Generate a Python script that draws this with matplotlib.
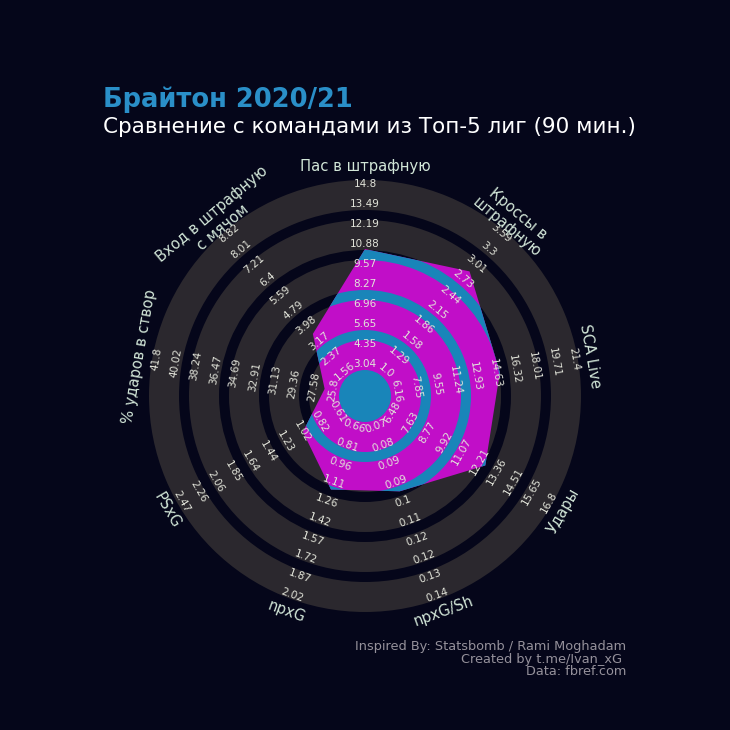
import numpy as np
import matplotlib.pyplot as plt
from matplotlib.patches import Polygon, Wedge, Circle

# parameters, clockwise from the top
params = ["Пас в штрафную", "Кроссы в\nштрафную", "SCA Live", "Удары", "npxG/Sh",
          "npxG", "PSxG", "% ударов в створ", "Вход в штрафную\nс мячом"]
# range of every axis (first and last tick label)
range_low = [3.04, 1.0, 6.16, 6.48, 0.07, 0.66, 0.61, 25.8, 1.56]
range_high = [14.8, 3.59, 21.4, 16.8, 0.14, 2.02, 2.47, 41.8, 8.82]
# Brighton values
values = [10.55, 2.88, 15.05, 12.61, 0.097, 1.17, 1.02, 26.6, 3.54]

# colours
bg = "#05061A"
ring_color = "#2B282E"
poly_color = "#C10EC8"
gap_color = "#1985B9"
label_color = "#D2E6D8"
range_color = "#E2E4DA"
title_color = "#2A8FC8"

# geometry (axis units = pixels)
inner = 26      # radius of the centre gap
band = 30       # width of a grey ring
gap = 10        # width of a dark gap
n_rings = 5
r0, r_step = 32, 20   # radius of the first range label and spacing
n_ticks = 10
label_r = 229

fig = plt.figure(figsize=(7.3, 7.3), dpi=100, facecolor=bg)
ax = fig.add_axes([0, 0, 1, 1])
ax.set_facecolor(bg)
ax.set_xlim(-365, 365)
ax.set_ylim(-334, 396)
ax.set_aspect('equal')
ax.axis('off')

n = len(params)
theta = np.deg2rad(90 - 360 / n * np.arange(n))

# grey rings
for j in range(n_rings):
    r_in = inner + j * (band + gap)
    ax.add_patch(Wedge((0, 0), r_in + band, 0, 360, width=band, fc=ring_color, ec='none', zorder=1))

# radar polygon
radius = np.array([r0 + (v - lo) / (hi - lo) * (n_ticks - 1) * r_step
                   for v, lo, hi in zip(values, range_low, range_high)])
xy = np.column_stack([radius * np.cos(theta), radius * np.sin(theta)])
poly = Polygon(xy, closed=True, fc=poly_color, ec='none', zorder=2)
ax.add_patch(poly)

# gaps inside the polygon are blue
c = Circle((0, 0), inner, fc=gap_color, ec='none', zorder=3)
ax.add_patch(c)
c.set_clip_path(poly)
for j in range(n_rings - 1):
    r_out = inner + band + j * (band + gap) + gap
    w = Wedge((0, 0), r_out, 0, 360, width=gap, fc=gap_color, ec='none', zorder=3)
    ax.add_patch(w)
    w.set_clip_path(poly)

# range labels and parameter labels
for i in range(n):
    rot = np.rad2deg(theta[i]) - 90
    if np.sin(theta[i]) < -1e-9:
        rot += 180
    ticks = np.linspace(range_low[i], range_high[i], n_ticks)
    for k, t in enumerate(ticks):
        r = r0 + k * r_step
        ax.text(r * np.cos(theta[i]), r * np.sin(theta[i]), str(round(float(t), 2)),
                rotation=rot, rotation_mode='anchor', ha='center', va='center',
                fontsize=7.5, color=range_color, zorder=5)
    ax.text(label_r * np.cos(theta[i]), label_r * np.sin(theta[i]), params[i],
            rotation=rot, rotation_mode='anchor', ha='center', va='center',
            fontsize=10.6, color=label_color, zorder=5)

# titles
fig.text(103 / 730, 1 - 100 / 730, "Брайтон 2020/21", fontsize=18.5, fontweight='bold',
         color=title_color, ha='left', va='center')
fig.text(103 / 730, 1 - 127 / 730, "Сравнение с командами из Топ-5 лиг (90 мин.)",
         fontsize=15.5, color='white', ha='left', va='center')

# endnote
fig.text(626 / 730, 1 - 659 / 730,
         "Inspired By: Statsbomb / Rami Moghadam\nCreated by t.me/Ivan_xG \nData: fbref.com",
         fontsize=9.3, color="#95919B", ha='right', va='center', linespacing=0.95)

fig.savefig("out.png", dpi=100, facecolor=bg)
